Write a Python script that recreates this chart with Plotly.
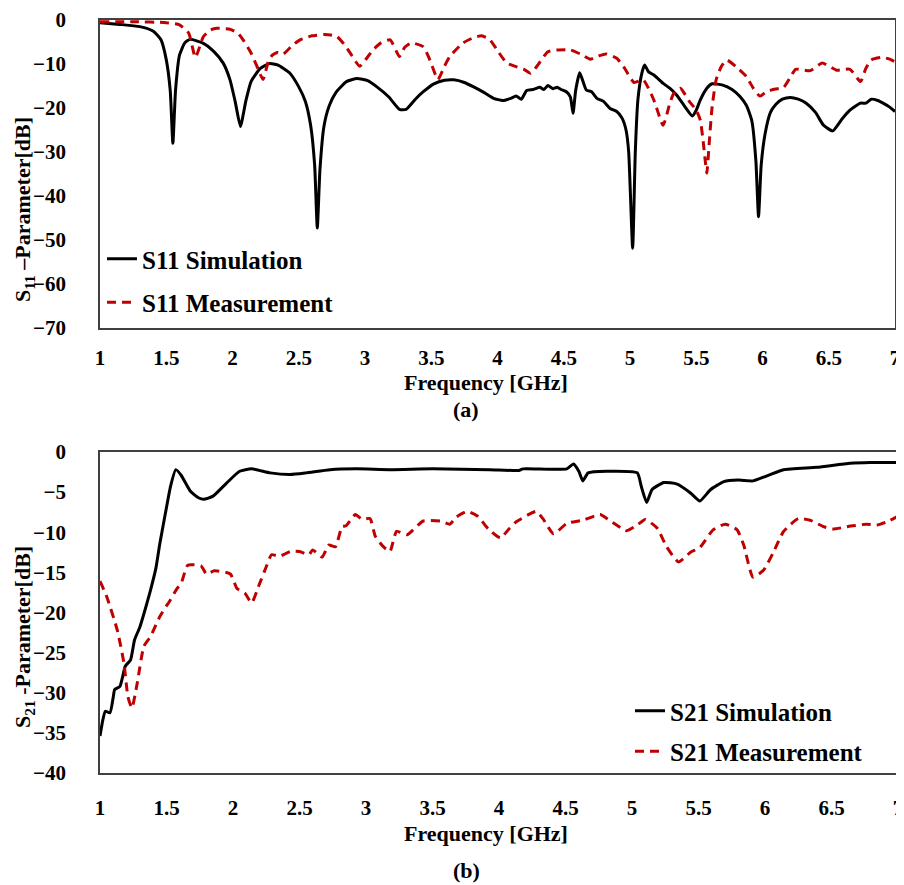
import plotly.graph_objects as go

# ---------------- data ----------------
s11_sim_f = [1.00, 1.15, 1.30, 1.40, 1.46, 1.50, 1.53, 1.55, 1.57, 1.60, 1.64, 1.68, 1.78, 1.86, 1.93,
             1.98, 2.02, 2.06, 2.10, 2.14, 2.21, 2.28, 2.34, 2.43, 2.50, 2.55, 2.59, 2.62, 2.64, 2.66,
             2.69, 2.73, 2.78, 2.86, 2.94, 3.02, 3.09, 3.18, 3.26, 3.31, 3.38, 3.44, 3.52, 3.60, 3.67,
             3.75, 3.82, 3.90, 3.97, 4.04, 4.10, 4.14, 4.18, 4.22, 4.27, 4.32, 4.35, 4.38, 4.42, 4.45,
             4.48, 4.52, 4.55, 4.57, 4.59, 4.62, 4.64, 4.67, 4.71, 4.75, 4.80, 4.85, 4.90, 4.94, 4.97,
             4.99, 5.02, 5.04, 5.06, 5.09, 5.11, 5.14, 5.18, 5.25, 5.30, 5.35, 5.41, 5.47, 5.50, 5.53,
             5.58, 5.62, 5.70, 5.77, 5.83, 5.88, 5.92, 5.95, 5.97, 5.99, 6.02, 6.06, 6.10, 6.15, 6.21,
             6.27, 6.33, 6.40, 6.46, 6.53, 6.60, 6.66, 6.74, 6.78, 6.82, 6.87, 6.91, 6.96, 7.00]
s11_sim_db = [-0.6, -1.0, -1.5, -2.5, -4.5, -9, -16, -28, -16, -8, -5.2, -4.4, -5.3, -7.2, -9.8,
              -13.5, -18.5, -24.2, -18.5, -14, -11, -9.9, -10.2, -12, -15.2, -18.5, -24, -33, -47.3, -34,
              -24.2, -19.5, -16.5, -14, -13.3, -13.8, -15.2, -17.5, -20.3, -20.3, -18, -16.3, -14.5, -13.7, -13.6,
              -14.2, -15.2, -16.5, -17.8, -18.3, -17.8, -17.3, -18, -16, -15.8, -15.3, -15.8, -14.9, -15.6, -15.3,
              -15.8, -16.3, -17.5, -21.2, -16, -12, -13.5, -15.9, -16.3, -17.8, -18.5, -20.1, -20.8, -22.3, -25,
              -30, -51.9, -30, -18, -12, -10.2, -11.8, -12.5, -14.4, -15.5, -17, -19.5, -21.8, -20.5, -18.2,
              -15.5, -14.5, -14.8, -15.8, -17.4, -19.5, -23, -32, -44.7, -33, -25.8, -21, -19.2, -18, -17.6,
              -18, -18.9, -21, -23.9, -25.2, -22.5, -20.5, -18.9, -18.9, -18, -18.3, -18.9, -19.8, -20.8]

s11_meas_f = [1.00, 1.25, 1.50, 1.60, 1.67, 1.72, 1.78, 1.83, 1.88, 1.98, 2.04, 2.08, 2.14, 2.18, 2.23,
              2.27, 2.30, 2.34, 2.38, 2.45, 2.51, 2.60, 2.69, 2.74, 2.79, 2.85, 2.89, 2.96, 3.01, 3.06,
              3.12, 3.19, 3.26, 3.30, 3.35, 3.44, 3.49, 3.55, 3.60, 3.64, 3.74, 3.82, 3.88, 3.94, 3.99,
              4.07, 4.14, 4.20, 4.25, 4.31, 4.38, 4.46, 4.55, 4.63, 4.70, 4.76, 4.82, 4.90, 4.96, 5.03,
              5.10, 5.18, 5.25, 5.30, 5.33, 5.38, 5.45, 5.50, 5.53, 5.55, 5.57, 5.58, 5.60, 5.62, 5.65,
              5.69, 5.73, 5.80, 5.88, 5.93, 5.98, 6.03, 6.08, 6.16, 6.21, 6.25, 6.36, 6.45, 6.51, 6.56,
              6.66, 6.74, 6.78, 6.82, 6.90, 6.96, 7.00]
s11_meas_db = [-0.4, -0.4, -0.6, -1.1, -3, -8.5, -3.8, -2.3, -1.9, -2.1, -3, -4.5, -7.5, -10.2, -13.5,
               -9.5, -8, -7.4, -7.8, -5.8, -4.5, -3.6, -3.3, -3.4, -3.8, -5.8, -7.6, -10.5, -8.8, -6.8,
               -5.2, -4.5, -8.3, -6.2, -5.2, -6.1, -9.1, -13.5, -10.5, -8.3, -5.2, -4.0, -3.6, -4.4, -6.5,
               -9.8, -10.6, -11.2, -12.1, -10, -7.2, -6.8, -6.8, -7.8, -8.9, -8.2, -7.7, -8.7, -11, -14.2,
               -13.6, -18.2, -23.9, -19, -16.7, -15.5, -18.6, -20.5, -22.7, -27, -32.6, -34.8, -27, -19.7, -13.6,
               -10.5, -9.1, -10.6, -12.9, -15.5, -17.3, -16.3, -15.8, -15.3, -13, -11.2, -11.5, -9.8, -10.6, -11.4,
               -11.2, -14, -11, -9.1, -8.5, -8.9, -9.5]

s21_sim_f = [1.00, 1.02, 1.04, 1.075, 1.10, 1.11, 1.15, 1.19, 1.23, 1.26, 1.30, 1.34, 1.38, 1.42, 1.45,
             1.49, 1.53, 1.57, 1.61, 1.68, 1.74, 1.78, 1.85, 1.95, 2.05, 2.14, 2.28, 2.43, 2.55, 2.73,
             2.93, 3.18, 3.50, 3.93, 4.15, 4.18, 4.51, 4.56, 4.60, 4.63, 4.67, 4.81, 5.04, 5.07, 5.11,
             5.15, 5.24, 5.34, 5.44, 5.51, 5.59, 5.69, 5.80, 5.91, 6.01, 6.14, 6.39, 6.64, 6.79, 7.00]
s21_sim_db = [-35.4, -33.5, -32.3, -32.5, -30.5, -29.6, -29.2, -26.7, -25.9, -23.4, -21.8, -19.6, -17.2, -14.5, -11.4,
              -7.8, -4.3, -2.2, -2.9, -4.9, -5.7, -5.9, -5.5, -3.9, -2.4, -2.1, -2.6, -2.8, -2.6, -2.2,
              -2.1, -2.2, -2.1, -2.2, -2.3, -2.1, -2.1, -1.5, -2.4, -3.6, -2.6, -2.4, -2.6, -4.3, -6.3,
              -4.7, -3.8, -4.0, -5.1, -6.1, -4.7, -3.7, -3.5, -3.6, -3.0, -2.2, -1.9, -1.4, -1.3, -1.3]

s21_meas_f = [1.00, 1.05, 1.13, 1.18, 1.21, 1.24, 1.28, 1.33, 1.38, 1.45, 1.53, 1.58, 1.61, 1.66, 1.76,
              1.80, 1.86, 1.98, 2.03, 2.09, 2.14, 2.20, 2.25, 2.29, 2.35, 2.43, 2.50, 2.57, 2.60, 2.67,
              2.72, 2.77, 2.82, 2.85, 2.92, 2.97, 3.03, 3.07, 3.13, 3.18, 3.23, 3.31, 3.43, 3.56, 3.63,
              3.68, 3.76, 3.84, 3.92, 4.01, 4.08, 4.13, 4.28, 4.33, 4.41, 4.51, 4.63, 4.76, 4.83, 4.96,
              5.04, 5.10, 5.19, 5.26, 5.35, 5.44, 5.51, 5.61, 5.70, 5.79, 5.84, 5.91, 5.99, 6.06, 6.14,
              6.25, 6.34, 6.44, 6.51, 6.59, 6.66, 6.76, 6.84, 6.93, 7.00]
s21_meas_db = [-16.1, -18.0, -22.2, -26.3, -30.5, -31.9, -28.8, -24.2, -23.0, -20.5, -18.4, -17.0, -16.4, -14.1, -14.2,
               -15.2, -14.8, -15.2, -17.0, -17.6, -18.8, -16.4, -14.3, -12.8, -13.0, -12.4, -12.4, -12.8, -12.2, -13.1,
               -11.6, -11.8, -9.3, -9.2, -7.8, -8.4, -8.3, -10.5, -11.8, -12.4, -9.9, -10.3, -8.6, -8.6, -9.0,
               -8.1, -7.4, -8.0, -9.6, -10.7, -9.5, -8.7, -7.4, -8.3, -10.2, -8.9, -8.5, -7.8, -8.5, -9.8,
               -9.1, -8.4, -9.5, -11.8, -13.7, -12.5, -11.9, -9.7, -9.0, -9.7, -11.6, -15.6, -14.7, -12.6, -9.9,
               -8.3, -8.5, -9.3, -9.6, -9.4, -9.2, -9.0, -9.1, -8.6, -8.0]

x_ticks = [1, 1.5, 2, 2.5, 3, 3.5, 4, 4.5, 5, 5.5, 6, 6.5, 7]
x_tick_text = ["1", "1.5", "2", "2.5", "3", "3.5", "4", "4.5", "5", "5.5", "6", "6.5", "7"]
y1_ticks = [0, -10, -20, -30, -40, -50, -60, -70]
y2_ticks = [0, -5, -10, -15, -20, -25, -30, -35, -40]

# ---------------- figure ----------------
# the page body has an 8px margin, so the figure is drawn 8px in from the top-left
OFF = 8
W, H = 904 - OFF, 885 - OFF
FONT = "Times New Roman, Liberation Serif, serif"
BLACK = "#000000"
RED = "#C00000"

def px(x):
    return (x - OFF) / W

def py(y):
    return 1 - (y - OFF) / H

fig = go.Figure()

fig.add_trace(go.Scatter(x=s11_sim_f, y=s11_sim_db, mode="lines", name="<b>S11 Simulation</b>",
                         line=dict(color=BLACK, width=3, shape="spline", smoothing=0.5),
                         xaxis="x", yaxis="y", legend="legend", legendgroup="a"))
fig.add_trace(go.Scatter(x=s11_meas_f, y=s11_meas_db, mode="lines", name="<b>S11 Measurement</b>",
                         line=dict(color=RED, width=3, dash="9px,6px", shape="spline", smoothing=0.5),
                         xaxis="x", yaxis="y", legend="legend", legendgroup="b"))
fig.add_trace(go.Scatter(x=s21_sim_f, y=s21_sim_db, mode="lines", name="<b>S21 Simulation</b>",
                         line=dict(color=BLACK, width=3, shape="spline", smoothing=0.5),
                         xaxis="x2", yaxis="y2", legend="legend2", legendgroup="c"))
fig.add_trace(go.Scatter(x=s21_meas_f, y=s21_meas_db, mode="lines", name="<b>S21 Measurement</b>",
                         line=dict(color=RED, width=3, dash="9px,6px", shape="spline", smoothing=0.5),
                         xaxis="x2", yaxis="y2", legend="legend2", legendgroup="d"))

tickfont = dict(family=FONT, size=21, color="black", weight="bold")
axis_common = dict(showgrid=False, zeroline=False, showline=True, mirror=True, automargin=False,
                   linecolor="#404040", linewidth=1.5, ticks="", tickfont=tickfont)

fig.update_layout(
    width=W, height=H,
    margin=dict(l=0, r=0, t=0, b=0, autoexpand=False),
    paper_bgcolor="white", plot_bgcolor="white",
    font=dict(family=FONT, color="black"),
    xaxis=dict(domain=[px(100), px(895)], range=[1, 7], tickvals=x_ticks, ticktext=x_tick_text,
               anchor="y", ticklabelstandoff=10, **axis_common),
    yaxis=dict(domain=[py(328), py(20)], range=[-70, 0], tickvals=y1_ticks,
               anchor="x", ticklabelstandoff=28, **axis_common),
    xaxis2=dict(domain=[px(100), px(898)], range=[1, 7], tickvals=x_ticks, ticktext=x_tick_text,
                anchor="y2", ticklabelstandoff=15, **axis_common),
    yaxis2=dict(domain=[py(773), py(452)], range=[-40, 0], tickvals=y2_ticks,
                anchor="x2", ticklabelstandoff=28, **axis_common),
    legend=dict(x=px(102), y=py(236), xanchor="left", yanchor="top", bgcolor="rgba(0,0,0,0)",
                font=dict(family=FONT, size=25, color="black", weight="bold"),
                tracegroupgap=8),
    legend2=dict(x=px(630), y=py(688), xanchor="left", yanchor="top", bgcolor="rgba(0,0,0,0)",
                 font=dict(family=FONT, size=25, color="black", weight="bold"),
                 tracegroupgap=5),
    showlegend=True,
)

ann_font = dict(family=FONT, size=22, color="black", weight="bold")
def ann(text, x, y, angle=0):
    return dict(text=text, x=px(x), y=py(y), xref="paper", yref="paper", xanchor="center",
                yanchor="middle", showarrow=False, textangle=angle, font=ann_font)

annotations = [
    ann("<b>Frequency [GHz]</b>", 486, 382),
    ann("<b>(a)</b>", 466, 409),
    ann("<b>Frequency [GHz]</b>", 486, 833),
    ann("<b>(b)</b>", 466, 870),
    ann("<b>S<sub>11</sub> \u2013Parameter[dB]</b>", 24, 210, -90),
    ann("<b>S<sub>21</sub> -Parameter[dB]</b>", 24, 637, -90),
]
fig.update_layout(annotations=annotations)

fig.write_html("out.html")
